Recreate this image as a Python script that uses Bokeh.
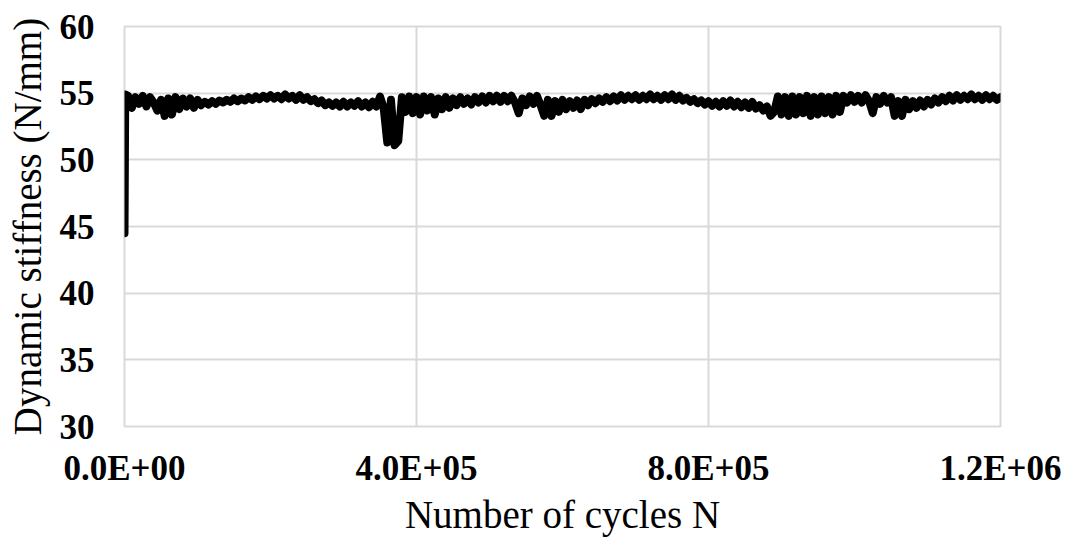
from bokeh.plotting import figure
from bokeh.models import FixedTicker, Range1d
from bokeh.embed import file_html
from bokeh.resources import INLINE

# Data (cycles, dynamic stiffness in N/mm)
cycles = [0, 1000] + list(range(5000, 1200001, 5000))
stiffness = [44.5, 54.9,
    54.8, 53.9, 54.7, 54.2, 54.8, 54.0, 54.7, 54.3, 53.7, 54.5,
    53.3, 54.6, 53.4, 54.7, 53.8, 54.6, 54.0, 54.6, 53.9, 54.5,
    54.1, 54.35, 54.15, 54.4, 54.2, 54.45, 54.3, 54.5, 54.35, 54.6,
    54.4, 54.6, 54.45, 54.7, 54.5, 54.75, 54.55, 54.8, 54.6, 54.85,
    54.6, 54.8, 54.55, 54.9, 54.6, 54.8, 54.5, 54.85, 54.5, 54.7,
    54.4, 54.55, 54.25, 54.45, 54.1, 54.3, 54.05, 54.3, 54.0, 54.35,
    54.0, 54.3, 54.05, 54.4, 54.0, 54.3, 53.95, 54.35, 54.0, 54.75,
    53.9, 51.3, 54.5, 51.1, 51.4, 54.7, 53.6, 54.75, 53.5, 54.7,
    53.4, 54.75, 53.7, 54.7, 53.4, 54.6, 53.8, 54.7, 53.9, 54.6,
    54.1, 54.7, 54.2, 54.6, 54.15, 54.7, 54.3, 54.75, 54.3, 54.8,
    54.4, 54.8, 54.35, 54.8, 54.4, 54.8, 54.3, 53.5, 54.6, 54.1,
    54.75, 54.2, 54.8, 54.1, 53.3, 54.5, 53.3, 54.4, 53.6, 54.5,
    53.8, 54.4, 53.9, 54.45, 53.8, 54.5, 54.1, 54.55, 54.25, 54.6,
    54.35, 54.7, 54.4, 54.75, 54.45, 54.85, 54.5, 54.8, 54.55, 54.85,
    54.5, 54.8, 54.55, 54.9, 54.55, 54.8, 54.5, 54.85, 54.55, 54.9,
    54.5, 54.8, 54.45, 54.65, 54.35, 54.55, 54.25, 54.45, 54.15, 54.4,
    54.05, 54.35, 54.0, 54.4, 54.05, 54.45, 54.0, 54.35, 53.95, 54.3,
    53.9, 54.35, 53.85, 54.1, 53.7, 54.0, 53.3, 53.6, 54.75, 53.4,
    54.7, 53.3, 54.75, 53.4, 54.7, 53.5, 54.8, 53.3, 54.7, 53.4,
    54.75, 53.5, 54.7, 53.4, 54.8, 53.6, 54.8, 54.3, 54.85, 54.35,
    54.8, 54.3, 54.85, 54.4, 53.5, 54.7, 54.2, 54.8, 54.3, 54.7,
    53.3, 54.4, 53.3, 54.5, 53.8, 54.4, 53.9, 54.45, 54.0, 54.5,
    54.15, 54.6, 54.3, 54.7, 54.4, 54.8, 54.45, 54.85, 54.5, 54.8,
    54.55, 54.9, 54.55, 54.8, 54.5, 54.85, 54.55, 54.8, 54.5, 54.7]

x_ticks = [0, 400000, 800000, 1200000]
x_tick_labels = ["0.0E+00", "4.0E+05", "8.0E+05", "1.2E+06"]
y_ticks = [30, 35, 40, 45, 50, 55, 60]

FONT = "Liberation Serif"
GRID = "#d9d9d9"

n = min(len(cycles), len(stiffness))
cycles = cycles[:n]
stiffness = stiffness[:n]

p = figure(width=1066, height=543, output_backend="svg", toolbar_location=None,
           x_range=Range1d(0, 1200000), y_range=Range1d(30, 60),
           min_border_left=124, min_border_right=66, min_border_top=26,
           min_border_bottom=117)
p.background_fill_color = "white"
p.border_fill_color = "white"
p.outline_line_color = GRID
p.outline_line_width = 2

p.line(cycles, stiffness, line_width=8, line_color="black",
       line_join="round", line_cap="round")

p.xaxis.ticker = FixedTicker(ticks=x_ticks)
p.xaxis.major_label_overrides = {t: l for t, l in zip(x_ticks, x_tick_labels)}
p.yaxis.ticker = FixedTicker(ticks=y_ticks)

for ax in (p.xaxis[0], p.yaxis[0]):
    ax.axis_line_color = None
    ax.major_tick_line_color = None
    ax.minor_tick_line_color = None
    ax.major_tick_in = 0
    ax.major_tick_out = 0
    ax.major_label_text_font = FONT
    ax.major_label_text_font_style = "bold"
    ax.major_label_text_font_size = "35px"
    ax.major_label_text_color = "black"
    ax.axis_label_text_font = FONT
    ax.axis_label_text_font_style = "normal"
    ax.axis_label_text_font_size = "39px"
    ax.axis_label_text_color = "black"

p.xaxis.axis_label = "Number of cycles N"
p.yaxis.axis_label = "Dynamic stiffness (N/mm)"
p.xaxis.major_label_standoff = 22
p.yaxis.major_label_standoff = 30
p.xaxis.axis_label_standoff = 2
p.yaxis.axis_label_standoff = 8

p.xgrid.ticker = FixedTicker(ticks=x_ticks)
p.ygrid.ticker = FixedTicker(ticks=y_ticks)
p.grid.grid_line_color = GRID
p.grid.grid_line_width = 2

open("out.html", "w").write(file_html(p, INLINE))
